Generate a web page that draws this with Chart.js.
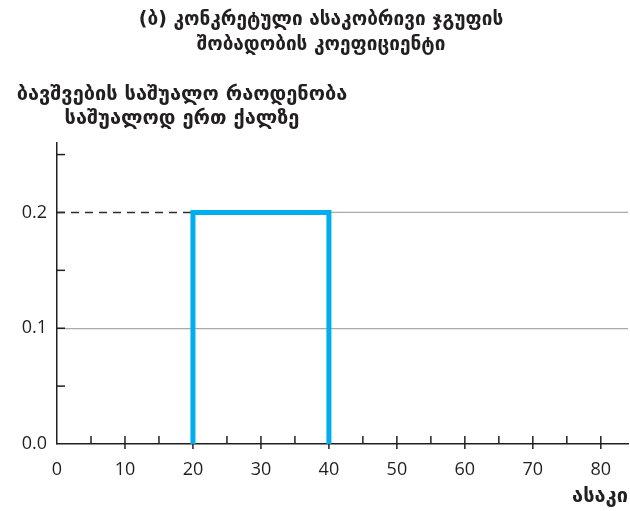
<!DOCTYPE html>
<html>
<head>
<meta charset="utf-8">
<script src="https://cdn.jsdelivr.net/npm/chart.js@4.4.1/dist/chart.umd.min.js"></script>
<style>
  html, body { margin: 0; padding: 0; background: #fff; }
  #wrap { width: 630px; height: 511px; }
</style>
</head>
<body>
<div id="wrap"><canvas id="asfrChart" width="630" height="511"></canvas></div>
<script>
// step function: birth rate per woman by age
const stepAges = [20, 20, 40, 40];
const stepRates = [0, 0.2, 0.2, 0];

const xTicks = [0, 10, 20, 30, 40, 50, 60, 70, 80];
const xMinorTicks = [5, 10, 15, 20, 25, 30, 35, 40, 45, 50, 55, 60, 65, 70, 75, 80];
const yTicks = [0, 0.1, 0.2];
const yTickLabels = ["0.0", "0.1", "0.2"];
const yMinorTicks = [0.05, 0.1, 0.15, 0.2, 0.25];
const xRange = [0, 84];
const yRange = [0, 0.26];

const titleLines = ["(ბ) კონკრეტული ასაკობრივი ჯგუფის", "შობადობის კოეფიციენტი"];
const yTitleLines = ["ბავშვების საშუალო რაოდენობა", "საშუალოდ ერთ ქალზე"];
const xTitle = "ასაკი";

const ink = "#231f20";
const georgianFont = "'DejaVu Sans', sans-serif";
const numFont = "'Open Sans', sans-serif";

// axis ticks pointing into the plot + the 0.2 guide line
const axisDecor = {
  id: "axisDecor",
  beforeDatasetsDraw(chart) {
    const { ctx, chartArea, scales } = chart;
    const x = scales.x, y = scales.y;
    ctx.save();
    ctx.strokeStyle = ink;
    ctx.lineWidth = 1.5;
    xMinorTicks.forEach((v) => {
      const px = x.getPixelForValue(v);
      const major = v % 10 === 0;
      ctx.beginPath();
      ctx.moveTo(px, chartArea.bottom - 8);
      ctx.lineTo(px, chartArea.bottom + (major ? 5 : 0));
      ctx.stroke();
    });
    yMinorTicks.forEach((v) => {
      const py = y.getPixelForValue(v);
      ctx.beginPath();
      ctx.moveTo(chartArea.left, py);
      ctx.lineTo(chartArea.left + 8, py);
      ctx.stroke();
    });

    // 0.2 level: dashed up to the step, gray gridline after it
    const level = stepRates[1];
    const py = y.getPixelForValue(level);
    ctx.strokeStyle = "#a7a9ac";
    ctx.lineWidth = 1.2;
    ctx.beginPath();
    ctx.moveTo(x.getPixelForValue(stepAges[2]), py);
    ctx.lineTo(chartArea.right, py);
    ctx.stroke();
    ctx.strokeStyle = "#2e2e2e";
    ctx.lineWidth = 1.4;
    ctx.setLineDash([8, 6]);
    ctx.beginPath();
    ctx.moveTo(chartArea.left, py);
    ctx.lineTo(x.getPixelForValue(stepAges[0]), py);
    ctx.stroke();
    ctx.restore();
  },
  afterDraw(chart) {
    const { ctx } = chart;
    ctx.save();
    ctx.fillStyle = ink;
    ctx.font = "bold 20px " + georgianFont;
    ctx.textAlign = "center";
    ctx.textBaseline = "middle";
    ctx.fillText(yTitleLines[0], 182, 95);
    ctx.fillText(yTitleLines[1], 182, 119);
    ctx.restore();
  },
};

new Chart(document.getElementById("asfrChart"), {
  type: "line",
  data: {
    datasets: [
      {
        label: "ASFR",
        data: stepAges.map((a, i) => ({ x: a, y: stepRates[i] })),
        borderColor: "#00aeef",
        borderWidth: 5,
        borderJoinStyle: "miter",
        pointRadius: 0,
        tension: 0,
        fill: false,
      },
    ],
  },
  options: {
    responsive: false,
    devicePixelRatio: 1,
    animation: false,
    layout: { padding: { top: 0, right: 2, bottom: 0, left: 14 } },
    plugins: {
      legend: { display: false },
      tooltip: { enabled: false },
      title: {
        display: true,
        text: titleLines,
        color: ink,
        font: { family: georgianFont, size: 19, weight: "bold", lineHeight: "25px" },
        padding: { top: 8, bottom: 85 },
      },
    },
    scales: {
      x: {
        type: "linear",
        min: xRange[0],
        max: xRange[1],
        afterBuildTicks: (scale) => {
          scale.ticks = xTicks.map((v) => ({ value: v }));
        },
        afterFit: (scale) => {
          scale.height = 67;
          scale.paddingLeft = 0;
          scale.paddingRight = 0;
        },
        grid: { display: false },
        border: { display: true, color: ink, width: 1.5 },
        ticks: {
          color: ink,
          padding: 7,
          maxRotation: 0,
          font: { family: numFont, size: 18 },
        },
        title: {
          display: true,
          text: xTitle,
          align: "end",
          color: ink,
          font: { family: georgianFont, size: 20, weight: "bold" },
          padding: { top: 0, bottom: 2 },
        },
      },
      y: {
        type: "linear",
        min: yRange[0],
        max: yRange[1],
        afterBuildTicks: (scale) => {
          scale.ticks = yTicks.map((v) => ({ value: v }));
        },
        afterFit: (scale) => {
          scale.width = 43;
          scale.paddingTop = 0;
          scale.paddingBottom = 0;
        },
        grid: {
          drawTicks: false,
          lineWidth: 1.2,
          color: (c) => (c.tick && c.tick.value === 0.1 ? "#a7a9ac" : "transparent"),
        },
        border: { display: true, color: ink, width: 1.5 },
        ticks: {
          color: ink,
          padding: 10,
          font: { family: numFont, size: 18 },
          callback: (v, i) => yTickLabels[i],
        },
      },
    },
  },
  plugins: [axisDecor],
});
</script>
</body>
</html>
